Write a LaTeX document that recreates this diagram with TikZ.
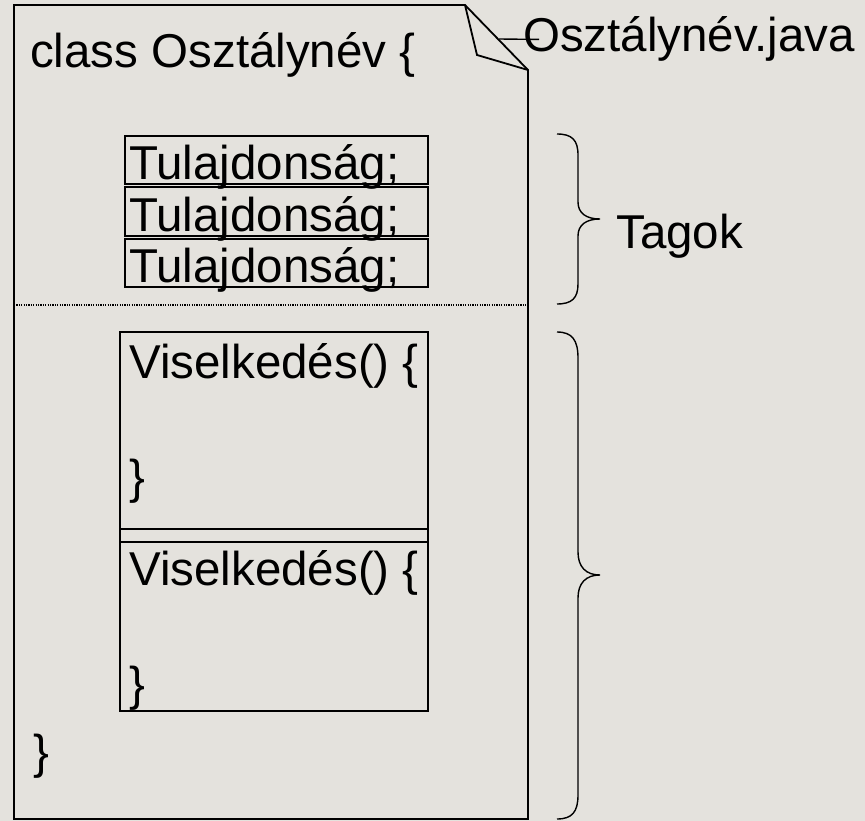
\documentclass[tikz,border=0pt]{standalone}
\usepackage{fontspec}
\setmainfont{Liberation Sans}
\definecolor{bgcol}{RGB}{228,226,221}
\begin{document}
\begin{tikzpicture}[x=1pt,y=-1pt,
  txt/.style={inner sep=0pt,anchor=base west,font=\fontsize{47.5pt}{50pt}\selectfont},
  pageline/.style={line width=1.8pt,line join=miter},
  tbox/.style={line width=1.3pt},
  vbox/.style={line width=1.8pt},
  bracel/.style={line width=1.4pt}]
\fill[bgcol] (0,0) rectangle (865,821);
\useasboundingbox (0,0) rectangle (865,821);
% page with folded corner
\coordinate (foldA) at (465,5);
\coordinate (foldB) at (528,70);
\coordinate (flap) at (477,55);
\draw[pageline] (foldA) -- (14,5) -- (14,819) -- (528,819) -- (foldB) -- cycle;
\draw[pageline] (foldA) -- (flap) -- (foldB);
% file name
\node[txt] (fname) at (523,52) {Osztálynév.java};
\coordinate (lead) at (499,39);
\draw[line width=1.4pt] (lead) -- ([xshift=16pt]fname.west);
% class header
\node[txt] (cls) at (30,68) {class Osztálynév \{};
% attributes
\draw[tbox] (125,136) rectangle (428,184);
\draw[tbox] (125,187) rectangle (428,236);
\draw[tbox] (125,239) rectangle (428,287);
\node[txt] (t1) at (129,180) {Tulajdonság;};
\node[txt] (t2) at (129,232) {Tulajdonság;};
\node[txt] (t3) at (129,282) {Tulajdonság;};
% separator
\draw[line width=1.2pt,dash pattern=on 1.2pt off 1.2pt] (14,305) -- (528,305);
% methods
\draw[vbox] (120,332) rectangle (428,542);
\draw[vbox] (120,529) rectangle (428,711);
\node[txt] (v1) at (129,378) {Viselkedés() \{};
\node[txt] (c1) at (129,493) {\}};
\node[txt] (v2) at (129,585) {Viselkedés() \{};
\node[txt] (c2) at (129,700) {\}};
\node[txt] (cend) at (33,768) {\}};
% braces
\draw[bracel] (557,134) .. controls (572,134) and (578,140) .. (578,155)
  -- (578,202) .. controls (578,213) and (586,219) .. (600,219)
  .. controls (586,219) and (578,225) .. (578,236)
  -- (578,284) .. controls (578,298) and (572,304) .. (557,304);
\node[txt] (tagok) at (616,248) {Tagok};
\draw[bracel] (557,332) .. controls (572,332) and (578,340) .. (578,358)
  -- (578,552) .. controls (578,567) and (586,575) .. (600,575)
  .. controls (586,575) and (578,583) .. (578,598)
  -- (578,795) .. controls (578,812) and (572,819) .. (557,819);
\end{tikzpicture}
\end{document}
